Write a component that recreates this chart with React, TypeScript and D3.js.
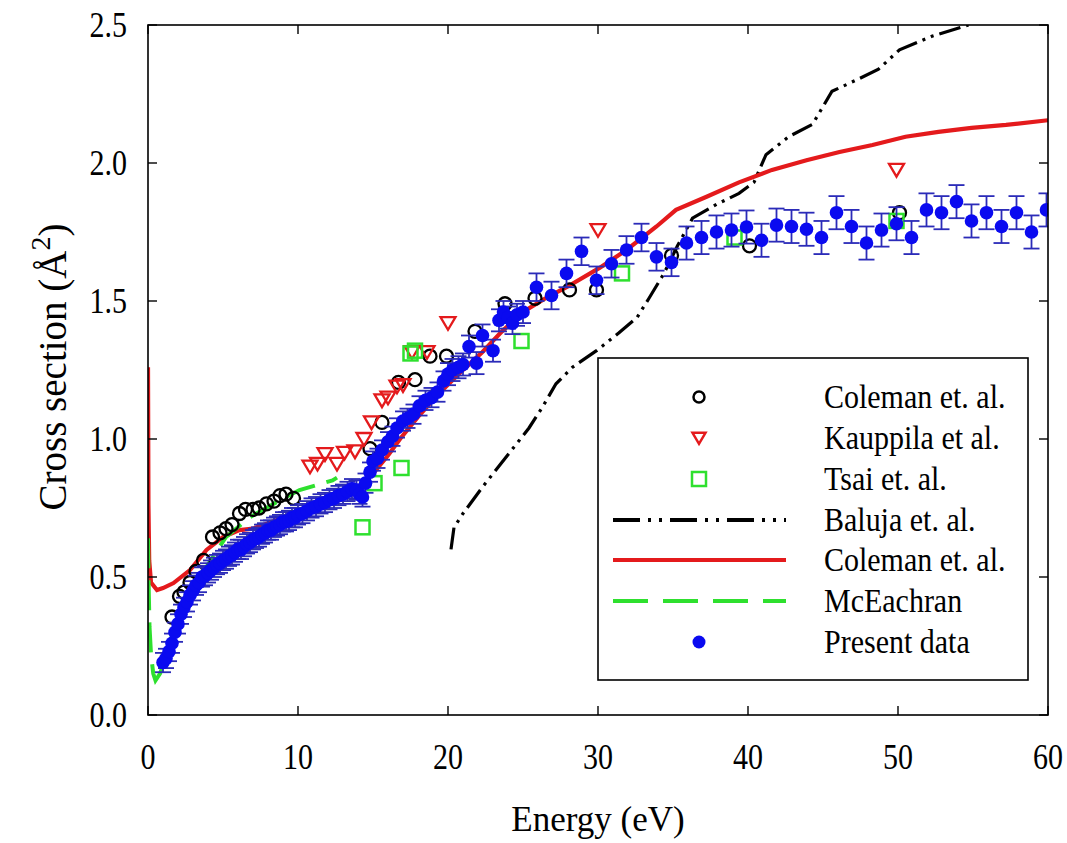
import React from "react";
import * as d3 from "d3";

// ---------- DATA ----------
const xTicks = [0, 10, 20, 30, 40, 50, 60];
const yTicks = [0, 0.5, 1.0, 1.5, 2.0, 2.5];

// Present data: [energy eV, cross section, error]
const presentData: [number, number, number][] = [
  [1.0, 0.19, 0.035], [1.2, 0.205, 0.035], [1.4, 0.23, 0.035], [1.6, 0.26, 0.035], [1.8, 0.3, 0.035],
  [2.0, 0.33, 0.035], [2.2, 0.365, 0.035], [2.4, 0.39, 0.035], [2.6, 0.41, 0.035], [2.8, 0.435, 0.035],
  [3.0, 0.45, 0.035], [3.2, 0.47, 0.035], [3.4, 0.48, 0.035], [3.6, 0.5, 0.035], [3.8, 0.505, 0.035],
  [4.0, 0.515, 0.035], [4.2, 0.525, 0.035], [4.4, 0.535, 0.035], [4.6, 0.545, 0.035], [4.8, 0.55, 0.035],
  [5.0, 0.56, 0.035], [5.2, 0.565, 0.035], [5.4, 0.575, 0.035], [5.6, 0.58, 0.035], [5.8, 0.59, 0.035],
  [6.0, 0.6, 0.035], [6.2, 0.6, 0.035], [6.4, 0.61, 0.035], [6.6, 0.62, 0.035], [6.8, 0.625, 0.035],
  [7.0, 0.635, 0.035], [7.2, 0.64, 0.035], [7.4, 0.645, 0.035], [7.6, 0.655, 0.035], [7.8, 0.66, 0.035],
  [8.0, 0.67, 0.035], [8.2, 0.67, 0.035], [8.4, 0.68, 0.035], [8.6, 0.685, 0.035], [8.8, 0.69, 0.035],
  [9.0, 0.7, 0.035], [9.2, 0.7, 0.035], [9.4, 0.705, 0.035], [9.6, 0.715, 0.035], [9.8, 0.715, 0.035],
  [10.0, 0.725, 0.035], [10.3, 0.73, 0.035], [10.6, 0.74, 0.035], [10.9, 0.75, 0.035], [11.2, 0.755, 0.035],
  [11.5, 0.765, 0.035], [11.8, 0.77, 0.035], [12.1, 0.78, 0.035], [12.4, 0.785, 0.035], [12.7, 0.795, 0.035],
  [13.0, 0.8, 0.035], [13.3, 0.81, 0.035], [13.6, 0.82, 0.035], [13.9, 0.815, 0.035], [14.1, 0.8, 0.035],
  [14.3, 0.79, 0.035],
  [14.5, 0.84, 0.035], [14.8, 0.88, 0.035], [15.0, 0.92, 0.035], [15.3, 0.93, 0.035], [15.6, 0.96, 0.035],
  [16.0, 0.99, 0.035], [16.3, 1.01, 0.035], [16.6, 1.04, 0.035], [17.0, 1.065, 0.035], [17.3, 1.075, 0.035],
  [17.7, 1.09, 0.035], [18.1, 1.12, 0.035], [18.5, 1.14, 0.035], [18.9, 1.15, 0.035], [19.3, 1.17, 0.035],
  [19.7, 1.21, 0.035], [20.0, 1.235, 0.04], [20.3, 1.25, 0.04], [20.7, 1.26, 0.04], [21.0, 1.27, 0.04],
  [21.4, 1.335, 0.04], [21.9, 1.275, 0.04], [22.3, 1.375, 0.04], [23.0, 1.32, 0.04], [23.4, 1.43, 0.04],
  [23.7, 1.46, 0.04], [24.0, 1.44, 0.04], [24.3, 1.42, 0.04], [24.6, 1.45, 0.04], [25.0, 1.46, 0.04],
  [25.9, 1.55, 0.05], [26.9, 1.52, 0.05], [27.9, 1.6, 0.05], [28.9, 1.68, 0.05], [29.9, 1.575, 0.05],
  [30.9, 1.635, 0.05], [31.9, 1.685, 0.05], [32.9, 1.73, 0.05], [33.9, 1.66, 0.05], [34.9, 1.64, 0.05],
  [35.9, 1.71, 0.06], [36.9, 1.73, 0.06], [37.9, 1.75, 0.06], [38.9, 1.757, 0.06], [39.9, 1.768, 0.06],
  [40.9, 1.72, 0.06], [41.9, 1.775, 0.06], [42.9, 1.77, 0.06], [43.9, 1.76, 0.06], [44.9, 1.73, 0.06],
  [45.9, 1.82, 0.06], [46.9, 1.77, 0.06], [47.9, 1.71, 0.06], [48.9, 1.757, 0.06], [49.9, 1.78, 0.06],
  [50.9, 1.73, 0.06], [51.9, 1.83, 0.06], [52.9, 1.82, 0.06], [53.9, 1.86, 0.06], [54.9, 1.79, 0.06],
  [55.9, 1.82, 0.06], [56.9, 1.77, 0.06], [57.9, 1.82, 0.06], [58.9, 1.75, 0.06], [59.9, 1.83, 0.06],
];

const colemanExp: [number, number][] = [
  [1.6, 0.355], [2.1, 0.43], [2.4, 0.445], [2.8, 0.48], [3.2, 0.52], [3.7, 0.56], [4.3, 0.645], [4.8, 0.66],
  [5.2, 0.675], [5.6, 0.69], [6.1, 0.73], [6.5, 0.745], [7.0, 0.745], [7.4, 0.75], [7.9, 0.765],
  [8.4, 0.775], [8.8, 0.795], [9.2, 0.8], [9.7, 0.785], [14.8, 0.965], [15.6, 1.06], [16.7, 1.205],
  [17.8, 1.215], [18.8, 1.3], [19.9, 1.3], [21.8, 1.39], [23.8, 1.49], [25.8, 1.51], [28.1, 1.54],
  [29.9, 1.54], [34.9, 1.665], [40.1, 1.7], [50.1, 1.82],
];

const kauppila: [number, number][] = [
  [10.8, 0.9], [11.3, 0.91], [11.8, 0.945], [12.6, 0.91], [13.1, 0.95], [13.8, 0.955], [14.4, 1.0],
  [14.9, 1.06], [15.6, 1.14], [16.0, 1.15], [16.6, 1.19], [17.0, 1.195], [17.6, 1.315], [18.6, 1.315],
  [20.0, 1.42], [30.0, 1.757], [49.9, 1.975],
];

const tsai: [number, number][] = [
  [14.3, 0.68], [15.1, 0.84], [16.9, 0.895], [17.5, 1.31], [17.8, 1.32], [24.9, 1.355], [31.6, 1.6],
  [39.1, 1.73], [49.9, 1.79],
];

const baluja: [number, number][] = [
  [20.2, 0.6], [20.4, 0.68], [21.0, 0.73], [22.3, 0.826], [24.1, 0.95], [25.4, 1.04], [26.3, 1.116],
  [27.2, 1.2], [28.3, 1.26], [29.9, 1.32], [31.4, 1.385], [32.6, 1.44], [33.4, 1.51], [34.4, 1.6],
  [35.3, 1.7], [36.3, 1.8], [37.9, 1.85], [39.4, 1.89], [40.4, 1.93], [41.2, 2.03], [42.7, 2.095],
  [44.3, 2.14], [45.6, 2.26], [47.2, 2.3], [48.7, 2.34], [50.1, 2.41], [52.3, 2.46], [54.7, 2.5],
];

const colemanTheory: [number, number][] = [
  [0.0, 1.26], [0.03, 0.76], [0.08, 0.56], [0.2, 0.48], [0.6, 0.453], [1.0, 0.46], [1.7, 0.478],
  [2.8, 0.525], [3.9, 0.598], [5.0, 0.645], [6.1, 0.67], [7.0, 0.675], [8.0, 0.695], [9.0, 0.715],
  [10.0, 0.73], [11.0, 0.75], [12.0, 0.77], [13.0, 0.79], [14.0, 0.82], [15.0, 0.875], [16.0, 0.94],
  [16.8, 1.0], [18.0, 1.08], [19.4, 1.165], [20.8, 1.24], [22.3, 1.315], [23.6, 1.39],
  [25.0, 1.46], [26.5, 1.51], [27.9, 1.55], [30.1, 1.62], [31.9, 1.685], [33.9, 1.77], [35.2, 1.83],
  [37.2, 1.877], [39.4, 1.93], [41.6, 1.975], [43.9, 2.01], [46.1, 2.04], [48.3, 2.065], [50.5, 2.095],
  [52.7, 2.113], [54.9, 2.127], [57.2, 2.138], [60.0, 2.155],
];

const mcEachran: [number, number][] = [
  [0.0, 0.64], [0.05, 0.45], [0.1, 0.32], [0.2, 0.22], [0.35, 0.15], [0.5, 0.125], [0.8, 0.15],
  [1.0, 0.18], [1.5, 0.27], [2.0, 0.36], [2.5, 0.43], [3.0, 0.48], [3.9, 0.537], [5.2, 0.645],
  [6.8, 0.717], [9.2, 0.79], [10.1, 0.815], [12.3, 0.85], [12.6, 0.86],
];

const legendLabels = [
  "Coleman et. al.",
  "Kauppila et al.",
  "Tsai et. al.",
  "Baluja et. al.",
  "Coleman et. al.",
  "McEachran",
  "Present data",
];

// ---------- STYLE ----------
const RED = "#e41a1c";
const GREEN = "#2ee02e";
const BLUE = "#0a0af0";
const ERR = "#2b2bb8";
const FONT = "'Liberation Serif', 'Times New Roman', serif";

const W = 1067;
const H = 843;
const L = 148, R = 1048, T = 25, B = 715;

export default function App() {
  const x = d3.scaleLinear().domain([0, 60]).range([L, R]);
  const y = d3.scaleLinear().domain([0, 2.5]).range([B, T]);
  const line = d3
    .line<[number, number]>()
    .x((d) => x(d[0]))
    .y((d) => y(d[1]));

  const tri = (cx: number, cy: number, s: number) =>
    `M${cx - s},${cy - s * 0.8}L${cx + s},${cy - s * 0.8}L${cx},${cy + s * 0.9}Z`;

  const legendRows = [397, 438, 479, 520, 560, 601, 642];
  const lx0 = 613, lx1 = 786, lsx = 699, ltx = 824;

  return (
    <svg
      width={W}
      height={H}
      style={{ position: "absolute", left: 0, top: 0, background: "#fff" }}
      fontFamily={FONT}
    >
      <defs>
        <clipPath id="plot">
          <rect x={L} y={T} width={R - L} height={B - T} />
        </clipPath>
      </defs>
      <rect x={0} y={0} width={W} height={H} fill="#fff" />

      <g clipPath="url(#plot)">
        <path d={line(baluja) || ""} fill="none" stroke="#000" strokeWidth={3.2}
          strokeDasharray="22 6 3 6 3 6" />
        <path d={line(colemanTheory) || ""} fill="none" stroke={RED} strokeWidth={4.2} />
        <path d={line(mcEachran) || ""} fill="none" stroke={GREEN} strokeWidth={4}
          strokeDasharray="30 12" />

        {colemanExp.map((d, i) => (
          <circle key={"c" + i} cx={x(d[0])} cy={y(d[1])} r={6.5} fill="none" stroke="#000" strokeWidth={2.3} />
        ))}
        {kauppila.map((d, i) => (
          <path key={"k" + i} d={tri(x(d[0]), y(d[1]), 7.5)} fill="none" stroke={RED} strokeWidth={2.3} />
        ))}
        {tsai.map((d, i) => (
          <rect key={"t" + i} x={x(d[0]) - 7} y={y(d[1]) - 7} width={14} height={14} fill="none"
            stroke={GREEN} strokeWidth={2.5} />
        ))}

        {presentData.map((d, i) => {
          const cx = x(d[0]);
          const y0 = y(d[1] - d[2]);
          const y1 = y(d[1] + d[2]);
          const cw = 8;
          return (
            <g key={"e" + i} stroke={ERR} strokeWidth={1.8}>
              <line x1={cx} x2={cx} y1={y0} y2={y1} />
              <line x1={cx - cw} x2={cx + cw} y1={y0} y2={y0} />
              <line x1={cx - cw} x2={cx + cw} y1={y1} y2={y1} />
            </g>
          );
        })}
        {presentData.map((d, i) => (
          <circle key={"p" + i} cx={x(d[0])} cy={y(d[1])} r={6.8} fill={BLUE} />
        ))}
      </g>

      {/* frame */}
      <rect x={L} y={T} width={R - L} height={B - T} fill="none" stroke="#000" strokeWidth={1.6} />

      {/* ticks */}
      {xTicks.map((t) => (
        <g key={"xt" + t} stroke="#000" strokeWidth={1.4}>
          <line x1={x(t)} x2={x(t)} y1={B} y2={B - 9} />
          <line x1={x(t)} x2={x(t)} y1={T} y2={T + 9} />
        </g>
      ))}
      {yTicks.map((t) => (
        <g key={"yt" + t} stroke="#000" strokeWidth={1.4}>
          <line x1={L} x2={L + 9} y1={y(t)} y2={y(t)} />
          <line x1={R} x2={R - 9} y1={y(t)} y2={y(t)} />
        </g>
      ))}

      {/* tick labels */}
      {xTicks.map((t) => (
        <text key={"xl" + t} transform={`translate(${x(t)},${757}) scale(1,1.2)`} textAnchor="middle"
          dominantBaseline="central" fontSize={30} fill="#000">
          {t}
        </text>
      ))}
      {yTicks.map((t) => (
        <text key={"yl" + t} transform={`translate(${127},${y(t)}) scale(1,1.2)`} textAnchor="end"
          dominantBaseline="central" fontSize={30} fill="#000">
          {t.toFixed(1)}
        </text>
      ))}

      {/* axis titles */}
      <text x={598} y={831} textAnchor="middle" fontSize={35} fill="#000">
        Energy (eV)
      </text>
      <text transform={`translate(66,367) rotate(-90)`} textAnchor="middle" fontSize={39} fill="#000">
        Cross section (Å<tspan fontSize={28} dy={-16}>2</tspan><tspan dy={16}>)</tspan>
      </text>

      {/* legend */}
      <rect x={598} y={358} width={430} height={322} fill="#fff" stroke="#000" strokeWidth={1.6} />
      <circle cx={lsx} cy={legendRows[0]} r={5.5} fill="none" stroke="#000" strokeWidth={2.5} />
      <path d={tri(lsx, legendRows[1], 6.5)} fill="none" stroke={RED} strokeWidth={2.5} />
      <rect x={lsx - 7} y={legendRows[2] - 7} width={14} height={14} fill="none" stroke={GREEN} strokeWidth={2.5} />
      <line x1={lx0} x2={lx1} y1={legendRows[3]} y2={legendRows[3]} stroke="#000" strokeWidth={4}
        strokeDasharray="27 8 3 8 3 8" />
      <line x1={lx0} x2={lx1} y1={legendRows[4]} y2={legendRows[4]} stroke={RED} strokeWidth={4} />
      <line x1={lx0} x2={lx1} y1={legendRows[5]} y2={legendRows[5]} stroke={GREEN} strokeWidth={4}
        strokeDasharray="35 15" />
      <circle cx={lsx} cy={legendRows[6]} r={6.5} fill={BLUE} />
      {legendLabels.map((s, i) => (
        <text key={"lg" + i} transform={`translate(${ltx},${legendRows[i]}) scale(1,1.1)`}
          dominantBaseline="central" fontSize={30} fill="#000">
          {s}
        </text>
      ))}
    </svg>
  );
}
